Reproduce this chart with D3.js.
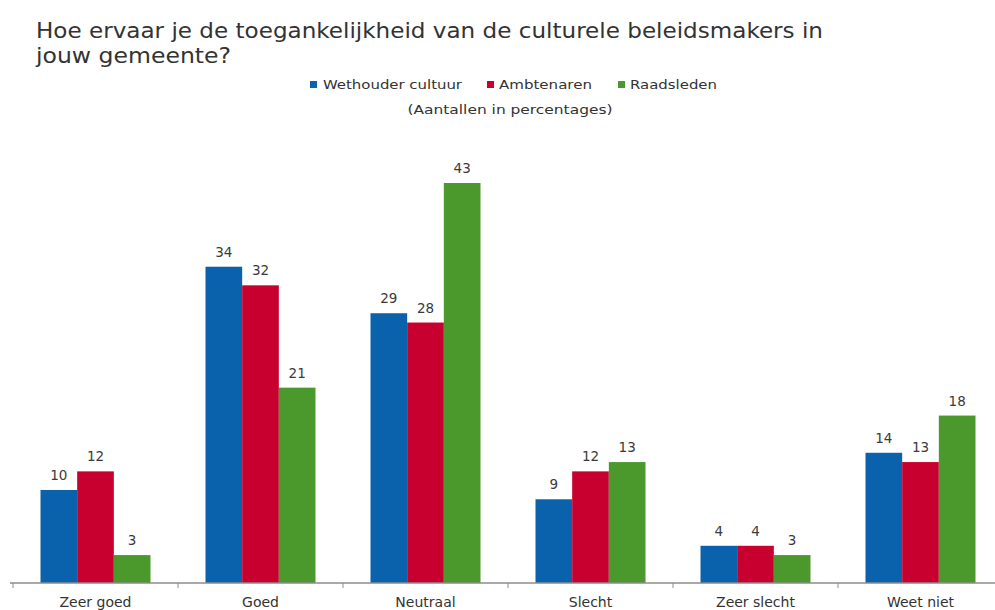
<!DOCTYPE html>
<html>
<head>
<meta charset="utf-8">
<script src="https://cdn.jsdelivr.net/npm/d3@7"></script>
<style>
  body { margin: 0; background: #fff; }
  text { font-family: "DejaVu Sans", Verdana, sans-serif; }
</style>
</head>
<body>
<svg id="chart" width="995" height="610"></svg>
<script>
// categories and series
var categories = ["Zeer goed", "Goed", "Neutraal", "Slecht", "Zeer slecht", "Weet niet"];
var seriesNames = ["Wethouder cultuur", "Ambtenaren", "Raadsleden"];
var wethouder = [10, 34, 29, 9, 4, 14];
var ambtenaren = [12, 32, 28, 12, 4, 13];
var raadsleden = [3, 21, 43, 13, 3, 18];
var colors = ["#0a62ad", "#c8002f", "#4b992d"];

var values = [wethouder, ambtenaren, raadsleden];

var svg = d3.select("#chart");

// title, stretched to the width it has in the picture
svg.append("text")
  .attr("x", 36).attr("y", 38)
  .attr("font-size", 21)
  .attr("fill", "#333")
  .attr("textLength", 787)
  .attr("lengthAdjust", "spacingAndGlyphs")
  .text("Hoe ervaar je de toegankelijkheid van de culturele beleidsmakers in");
svg.append("text")
  .attr("x", 36).attr("y", 63)
  .attr("font-size", 21)
  .attr("fill", "#333")
  .attr("textLength", 195)
  .attr("lengthAdjust", "spacingAndGlyphs")
  .text("jouw gemeente?");

// scales
var baseY = 583;
var x0 = d3.scaleBand().domain(categories).range([13, 1003]).padding(0);
var x1 = d3.scaleBand().domain(seriesNames).range([0, x0.bandwidth()])
  .paddingInner(0).paddingOuter(0.75);
var y = d3.scaleLinear().domain([0, 43]).range([baseY, 183]);

// bars
var groups = svg.selectAll(".grp")
  .data(categories)
  .enter()
  .append("g")
  .attr("class", "grp")
  .attr("transform", function(d) { return "translate(" + x0(d) + ",0)"; });

function rows(d, i) {
  return seriesNames.map(function(s, j) { return { s: s, j: j, v: values[j][i] }; });
}

groups.selectAll("rect")
  .data(rows)
  .enter()
  .append("rect")
  .attr("x", function(d) { return x1(d.s); })
  .attr("y", function(d) { return y(d.v); })
  .attr("width", x1.bandwidth())
  .attr("height", function(d) { return baseY - y(d.v); })
  .attr("fill", function(d) { return colors[d.j]; });

groups.selectAll("text.val")
  .data(rows)
  .enter()
  .append("text")
  .attr("class", "val")
  .attr("x", function(d) { return x1(d.s) + x1.bandwidth() / 2; })
  .attr("y", function(d) { return y(d.v) - 10; })
  .attr("text-anchor", "middle")
  .attr("font-size", 13.5)
  .attr("fill", "#3a3a3a")
  .text(function(d) { return d.v; });

// axis
var axis = svg.append("g").attr("transform", "translate(0," + baseY + ")");
axis.append("line")
  .attr("x1", 10).attr("x2", 995)
  .attr("stroke", "#8c8c8c").attr("stroke-width", 1.5);
axis.selectAll("line.tick")
  .data(categories)
  .enter()
  .append("line")
  .attr("class", "tick")
  .attr("x1", function(d) { return x0(d); })
  .attr("x2", function(d) { return x0(d); })
  .attr("y1", 0).attr("y2", 5)
  .attr("stroke", "#8c8c8c");
axis.selectAll("text")
  .data(categories)
  .enter()
  .append("text")
  .attr("x", function(d) { return x0(d) + x0.bandwidth() / 2; })
  .attr("y", 24)
  .attr("text-anchor", "middle")
  .attr("font-size", 14)
  .attr("fill", "#333")
  .text(function(d) { return d; });

// legend
var legendX = [310, 487, 618];
var legendW = [139, 93, 87];
var legend = svg.selectAll(".leg")
  .data(seriesNames)
  .enter()
  .append("g")
  .attr("class", "leg")
  .attr("transform", function(d, i) { return "translate(" + legendX[i] + ",85)"; });
legend.append("rect")
  .attr("x", 0).attr("y", -4).attr("width", 7).attr("height", 7)
  .attr("fill", function(d, i) { return colors[i]; });
legend.append("text")
  .attr("x", function(d, i) { return i === 0 ? 13 : 12; })
  .attr("y", 4)
  .attr("font-size", 13)
  .attr("fill", "#333")
  .attr("textLength", function(d, i) { return legendW[i]; })
  .attr("lengthAdjust", "spacingAndGlyphs")
  .text(function(d) { return d; });

svg.append("text")
  .attr("x", 510).attr("y", 114)
  .attr("text-anchor", "middle")
  .attr("font-size", 13)
  .attr("fill", "#333")
  .attr("textLength", 205)
  .attr("lengthAdjust", "spacingAndGlyphs")
  .text("(Aantallen in percentages)");
</script>
</body>
</html>
